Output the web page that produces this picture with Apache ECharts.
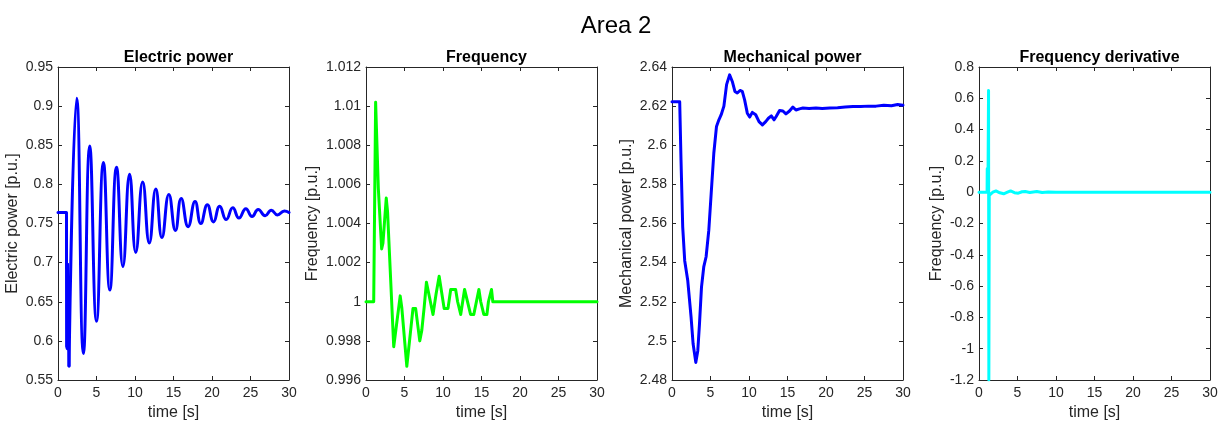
<!DOCTYPE html>
<html>
<head>
<meta charset="utf-8">
<script src="https://cdn.jsdelivr.net/npm/echarts@6/dist/echarts.min.js"></script>
<style>
  html, body { margin: 0; padding: 0; background: #ffffff; }
  #chart { width: 1222px; height: 426px; }
</style>
</head>
<body>
<div id="chart"></div>
<script>
// Area 2 dynamic response: four time-domain traces over 0–30 s

// Electric power [p.u.]: fault step, then a decaying swing (extremes)
const elecStepTime = [0, 1.1, 1.12, 1.2, 1.25, 1.43];
const elecStepVal  = [0.764, 0.764, 0.593, 0.59, 0.698, 0.568];
const elecSwingTime = [1.43, 2.43, 3.3, 4.12, 5.0, 5.9, 6.73, 7.6, 8.43, 9.3, 10.1, 11.0, 11.86, 12.7, 13.5, 14.4, 15.25, 16.0, 16.9, 17.8, 18.55, 19.4, 20.2, 21.0, 21.85, 22.7, 23.5, 24.4, 25.2, 26.0, 26.9, 27.7, 28.5, 29.4, 30];
const elecSwingVal  = [0.568, 0.910, 0.584, 0.849, 0.625, 0.828, 0.665, 0.822, 0.695, 0.813, 0.713, 0.803, 0.725, 0.794, 0.732, 0.787, 0.741, 0.782, 0.746, 0.778, 0.750, 0.774, 0.752, 0.772, 0.755, 0.770, 0.757, 0.769, 0.759, 0.768, 0.760, 0.767, 0.761, 0.766, 0.764];

// Frequency [p.u.]
const freqTime = [0, 1.0, 1.25, 1.6, 2.03, 2.2, 2.63, 2.8, 3.6, 3.85, 4.44, 4.65, 5.3, 5.5, 6.1, 6.45, 6.98, 7.25, 7.55, 7.85, 8.1, 8.7, 9.1, 9.5, 9.75, 10.15, 10.65, 11.0, 11.64, 11.9, 12.3, 12.8, 13.05, 13.58, 14.0, 14.66, 14.9, 15.3, 15.7, 15.9, 16.3, 16.47, 30];
const freqVal  = [1.0, 1.0, 1.0102, 1.0058, 1.0027, 1.0030, 1.0053, 1.0046, 0.9977, 0.9977, 1.0003, 0.9997, 0.9967, 0.9967, 0.99965, 0.99965, 0.9980, 0.99855, 0.9997, 1.0010, 1.00095, 0.99935, 1.0004, 1.0013, 1.0013, 0.99966, 0.99966, 1.00063, 1.00063, 1.0, 0.99935, 1.00063, 1.00063, 0.99935, 0.99935, 1.00063, 1.0, 0.99935, 0.99935, 1.0, 1.00063, 1.0, 1.0];

// Mechanical power [p.u.]
const mechTime = [0, 1.0, 1.17, 1.39, 1.65, 2.04, 2.48, 2.74, 3.09, 3.35, 3.57, 3.83, 4.13, 4.43, 4.78, 5.09, 5.43, 5.78, 6.09, 6.39, 6.74, 7.09, 7.48, 7.83, 8.17, 8.48, 8.83, 9.13, 9.43, 9.78, 10.09, 10.43, 10.87, 11.3, 11.74, 12.17, 12.52, 12.9, 13.26, 13.53, 13.97, 14.4, 14.8, 15.26, 15.7, 16.1, 16.55, 17.0, 17.8, 18.7, 19.5, 20.5, 21.5, 22.5, 23.5, 24.5, 25.5, 26.5, 27.5, 28.5, 29.3, 30];
const mechVal  = [2.6222, 2.6222, 2.5925, 2.5583, 2.541, 2.531, 2.512, 2.4985, 2.489, 2.495, 2.5087, 2.5275, 2.538, 2.543, 2.5566, 2.5754, 2.5959, 2.6096, 2.613, 2.6156, 2.62, 2.631, 2.636, 2.6326, 2.6275, 2.6267, 2.628, 2.6275, 2.6232, 2.6164, 2.6144, 2.6168, 2.6156, 2.6121, 2.6104, 2.6121, 2.6138, 2.615, 2.613, 2.6147, 2.6178, 2.6175, 2.616, 2.6175, 2.6195, 2.618, 2.6186, 2.619, 2.6188, 2.619, 2.6188, 2.619, 2.6192, 2.6195, 2.6198, 2.6198, 2.62, 2.62, 2.6205, 2.6202, 2.6208, 2.6205];

// Frequency derivative [p.u.]
const dfreqTime = [0, 1.05, 1.07, 1.12, 1.16, 1.2, 1.24, 1.28, 1.33, 1.4, 1.8, 2.2, 2.7, 3.2, 3.7, 4.1, 4.6, 5.1, 5.6, 6.0, 6.6, 7.5, 8.2, 9.0, 10.0, 30];
const dfreqVal  = [0, 0, 0.15, 0.15, 0.0, 0.0, 0.65, -1.2, -0.02, -0.012, 0.0, 0.008, -0.004, -0.01, 0.0, 0.008, -0.003, -0.006, 0.003, 0.005, -0.002, 0.005, -0.002, 0.002, 0, 0];

// Panel titles, axis names and y ranges
const panelTitles = ['Electric power', 'Frequency', 'Mechanical power', 'Frequency derivative'];
const yNames = ['Electric power [p.u.]', 'Frequency [p.u.]', 'Mechanical power [p.u.]', 'Frequency [p.u.]'];
const yMin = [0.55, 0.996, 2.48, -1.2];
const yMax = [0.95, 1.012, 2.64, 0.8];
const yStep = [0.05, 0.002, 0.02, 0.2];
const xTicks = [0, 30, 5];

const pairs = (xs, ys) => xs.map((x, i) => [x, ys[i]]);

const INK = '#262626';
const FONT = '"Liberation Sans", Arial, sans-serif';
const gridLeft = [58, 366, 672, 979];
const gridW = 231, gridTop = 67, gridH = 313;
const yNameGap = [37, 45, 37, 34];

const grids = gridLeft.map(l => ({
  left: l, top: gridTop, width: gridW, height: gridH,
  containLabel: false, outerBoundsMode: 'none',
  show: false
}));

const lineAxis = { show: true, onZero: false, lineStyle: { color: INK, width: 1 } };
const tickIn = { show: true, inside: true, length: 4, lineStyle: { color: INK, width: 1 } };

const xAxes = [];
const yAxes = [];
for (let i = 0; i < 4; i++) {
  xAxes.push({
    type: 'value', gridIndex: i, position: 'bottom',
    min: xTicks[0], max: xTicks[1], interval: xTicks[2],
    axisLine: lineAxis, axisTick: tickIn, splitLine: { show: false },
    axisLabel: { color: INK, fontSize: 14, fontFamily: FONT, margin: 6 },
    name: 'time [s]', nameLocation: 'middle', nameGap: 25,
    nameTextStyle: { color: INK, fontSize: 16, fontFamily: FONT }
  });
  yAxes.push({
    type: 'value', gridIndex: i, position: 'left',
    min: yMin[i], max: yMax[i], interval: yStep[i],
    axisLine: lineAxis, axisTick: tickIn, splitLine: { show: false },
    axisLabel: { color: INK, fontSize: 14, fontFamily: FONT, margin: 5 },
    name: yNames[i], nameLocation: 'middle', nameGap: yNameGap[i],
    nameTextStyle: { color: INK, fontSize: 16, fontFamily: FONT }
  });
}
// mirrored box edges with inward ticks (top and right)
for (let i = 0; i < 4; i++) {
  xAxes.push({
    type: 'value', gridIndex: i, position: 'top',
    min: xTicks[0], max: xTicks[1], interval: xTicks[2],
    axisLine: lineAxis, axisTick: tickIn, splitLine: { show: false },
    axisLabel: { show: false }
  });
  yAxes.push({
    type: 'value', gridIndex: i, position: 'right',
    min: yMin[i], max: yMax[i], interval: yStep[i],
    axisLine: lineAxis, axisTick: tickIn, splitLine: { show: false },
    axisLabel: { show: false }
  });
}

const titles = [{
  text: 'Area 2', left: 611, top: 9, textAlign: 'center',
  textStyle: { color: '#000', fontSize: 24, fontWeight: 'normal', fontFamily: FONT }
}];
panelTitles.forEach((t, i) => titles.push({
  text: t, left: gridLeft[i] + gridW / 2, top: 45, textAlign: 'center',
  textStyle: { color: '#000', fontSize: 16, fontWeight: 'bold', fontFamily: FONT }
}));

const lineSeries = (idx, data, color, smooth) => ({
  type: 'line', xAxisIndex: idx, yAxisIndex: idx, data: data,
  showSymbol: false, symbol: 'none', smooth: smooth || false,
  clip: true, animation: false,
  lineStyle: { color: color, width: 3, join: 'round', cap: 'round' }
});

const chart = echarts.init(document.getElementById('chart'), null, { renderer: 'canvas' });
chart.setOption({
  backgroundColor: '#ffffff',
  animation: false,
  title: titles,
  grid: grids,
  xAxis: xAxes,
  yAxis: yAxes,
  series: [
    lineSeries(0, pairs(elecStepTime, elecStepVal), '#0000ff'),
    lineSeries(0, pairs(elecSwingTime, elecSwingVal), '#0000ff', 0.5),
    lineSeries(1, pairs(freqTime, freqVal), '#00ff00'),
    lineSeries(2, pairs(mechTime, mechVal), '#0000ff'),
    lineSeries(3, pairs(dfreqTime, dfreqVal), '#00ffff')
  ]
});
</script>
</body>
</html>
